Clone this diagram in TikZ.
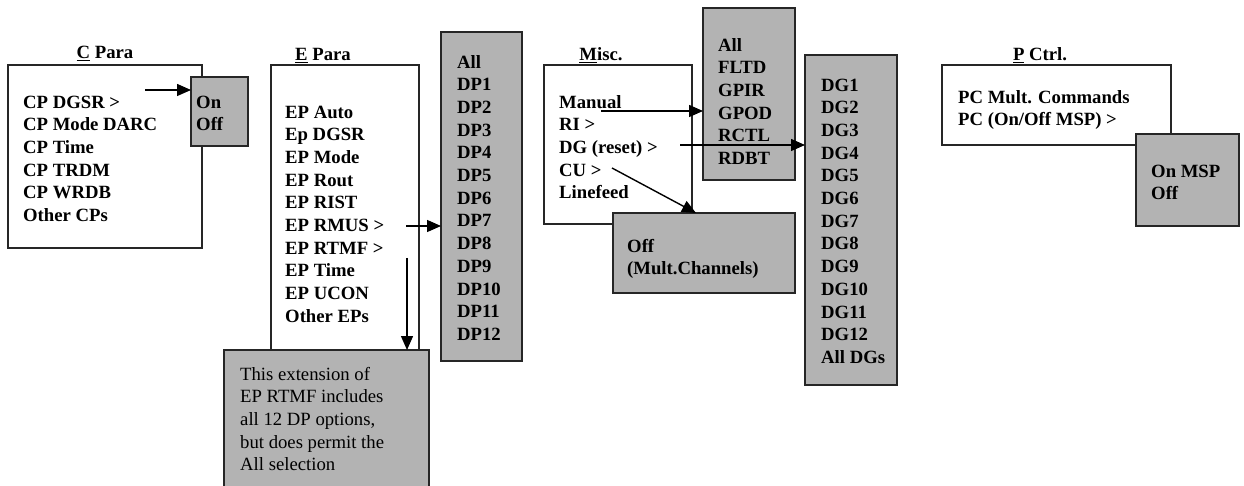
\documentclass[tikz,border=0pt]{standalone}
\usepackage{fontspec}
\setmainfont{Liberation Serif}
\usetikzlibrary{arrows.meta}
\definecolor{boxgrey}{HTML}{B3B3B3}
\definecolor{edgecol}{HTML}{262626}
\begin{document}
\begin{tikzpicture}[x=1pt,y=-1pt,
  wbox/.style={draw=edgecol, line width=1.4pt, fill=white, anchor=north west, inner sep=0pt, outer sep=0pt},
  gbox/.style={wbox, fill=boxgrey},
  lst/.style={anchor=north west, inner sep=0pt, align=left, font=\bfseries\fontsize{18.7}{22.7}\selectfont},
  note/.style={anchor=north west, inner sep=0pt, align=left, font=\fontsize{18.7}{22.7}\selectfont},
  ttl/.style={anchor=base, inner sep=0pt, font=\bfseries\fontsize{18.7}{22.7}\selectfont},
  arr/.style={-{Triangle[length=14pt,width=12pt]}, line width=1.4pt, draw=black}]
\useasboundingbox (0,0) rectangle (1244,486);

% ---- C Para
\node[ttl] (ctitle) at (105,59) {\underline{C} Para};
\node[wbox, minimum width=194pt, minimum height=183pt] (cbox) at (8,65) {};
\node[lst] (clist) at (23,92) {\strut CP DGSR >\\CP Mode DARC\\CP Time\\CP TRDM\\CP WRDB\\Other CPs};
\node[gbox, minimum width=57pt, minimum height=69pt] (conoff) at (191,77) {};
\node[lst] (conofflist) at (196,92) {\strut On\\Off};

% ---- E Para
\node[ttl] (etitle) at (323,61) {\underline{E} Para};
\node[wbox, minimum width=148pt, minimum height=300pt] (ebox) at (271,65) {};
\node[lst] (elist) at (285,102) {\strut EP Auto\\Ep DGSR\\EP Mode\\EP Rout\\EP RIST\\EP RMUS >\\EP RTMF >\\EP Time\\EP UCON\\Other EPs};
\node[gbox, minimum width=81pt, minimum height=329pt] (dpbox) at (441,32) {};
\node[lst] (dplist) at (457,52) {\strut All\\DP1\\DP2\\DP3\\DP4\\DP5\\DP6\\DP7\\DP8\\DP9\\DP10\\DP11\\DP12};
\node[gbox, minimum width=205pt, minimum height=145pt] (desc) at (224,350) {};
\node[note] (desclist) at (240,364) {\strut This extension of\\EP RTMF includes\\all 12 DP options,\\but does permit the\\All selection};

% ---- Misc.
\node[ttl] (mtitle) at (601,61) {\underline{M}isc.};
\node[wbox, minimum width=148pt, minimum height=159pt] (mbox) at (544,65) {};
\node[lst] (mlist) at (559,92) {\strut Manual\\RI >\\DG (reset) >\\CU >\\Linefeed};
\node[gbox, minimum width=92pt, minimum height=172pt] (fbox) at (703,8) {};
\node[lst] (flist) at (718,35) {\strut All\\FLTD\\GPIR\\GPOD\\RCTL\\RDBT};
\node[gbox, minimum width=92pt, minimum height=330pt] (dgbox) at (805,55) {};
\node[lst] (dglist) at (821,75) {\strut DG1\\DG2\\DG3\\DG4\\DG5\\DG6\\DG7\\DG8\\DG9\\DG10\\DG11\\DG12\\All DGs};
\node[gbox, minimum width=182pt, minimum height=80pt] (offbox) at (613,213) {};
\node[lst] (offlist) at (627,236) {\strut Off\\(Mult.Channels)};

% ---- P Ctrl.
\node[ttl] (ptitle) at (1040,61) {\underline{P} Ctrl.};
\node[wbox, minimum width=229pt, minimum height=80pt] (pbox) at (942,65) {};
\node[lst] (plist) at (958,87) {\strut PC Mult. Commands\\PC (On/Off MSP) >};
\node[gbox, minimum width=103pt, minimum height=92pt] (mspbox) at (1136,134) {};
\node[lst] (msplist) at (1151,161) {\strut On MSP\\Off};

% ---- connectors
\coordinate (ca) at (145,90);
\draw[arr] (ca) -- (ca -| conoff.west);
\coordinate (ea) at (406,226);
\draw[arr] (ea) -- (ea -| dpbox.west);
\coordinate (eb) at (407,258);
\draw[arr] (eb) -- (eb |- desc.north);
\coordinate (ma) at (601,111);
\draw[arr] (ma) -- (ma -| fbox.west);
\coordinate (mb) at (680,145);
\draw[arr] (mb) -- (mb -| dgbox.west);
\coordinate (mc) at (612,168);
\coordinate (mcend) at (696,0);
\draw[arr] (mc) -- (offbox.north -| mcend);
\end{tikzpicture}
\end{document}
